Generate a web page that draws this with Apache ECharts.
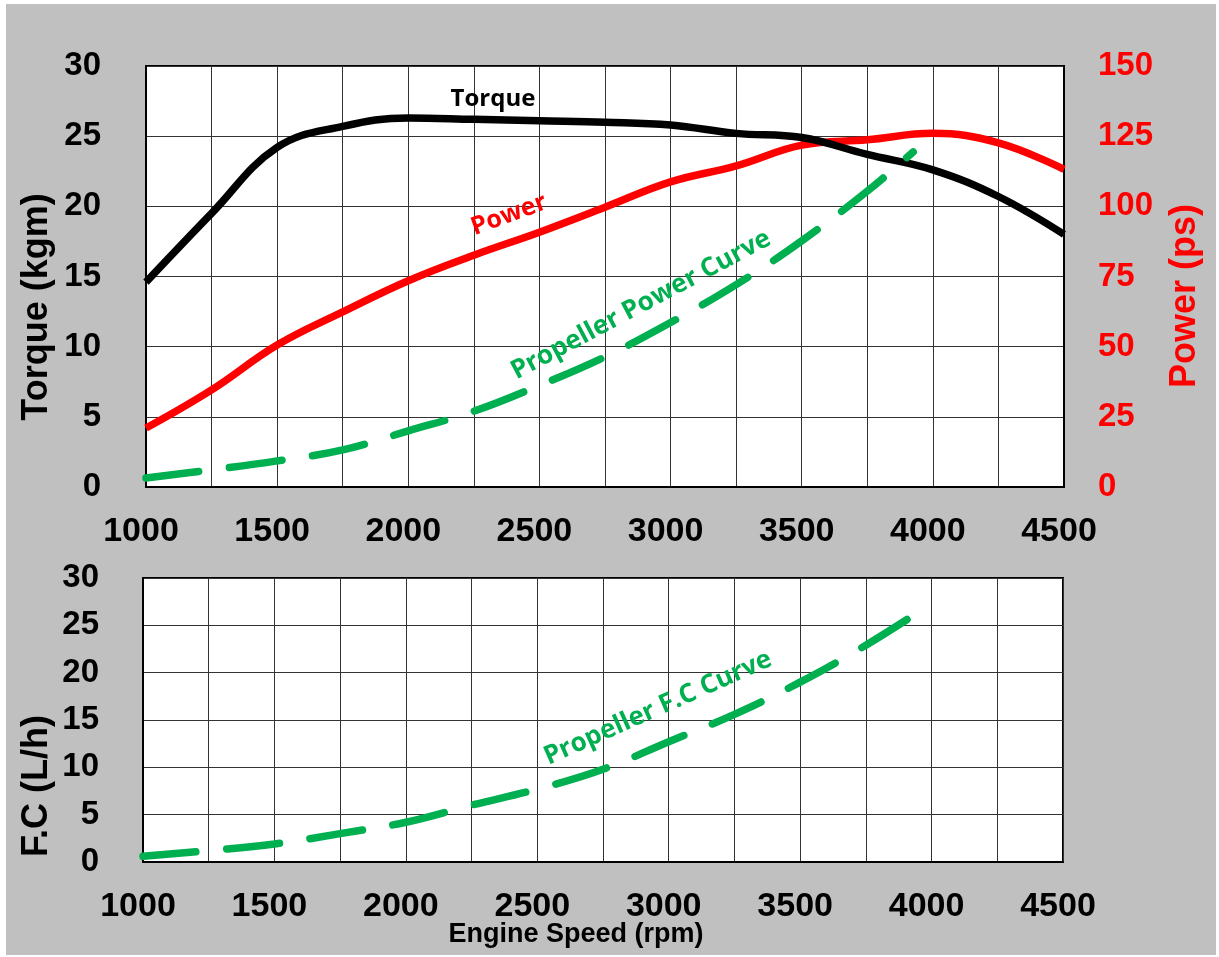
<!DOCTYPE html>
<html>
<head>
<meta charset="utf-8">
<script src="https://cdn.jsdelivr.net/npm/echarts@6/dist/echarts.min.js"></script>
<style>
  html, body { margin: 0; padding: 0; background: #ffffff; }
  #chart { position: absolute; left: 6px; top: 4px; width: 1210px; height: 951px; }
</style>
</head>
<body>
<div id="chart"></div>
<script>
// ---- data ----
const rpm = [1000, 1250, 1500, 1750, 2000, 2250, 2500, 2750, 3000, 3250, 3500, 3750, 4000, 4250, 4500];
const torque = [14.6, 19.5, 24.2, 25.7, 26.3, 26.2, 26.1, 26.0, 25.8, 25.2, 24.9, 23.7, 22.6, 20.7, 18.0];
const power = [21.0, 34.6, 50.6, 62.4, 73.5, 82.6, 90.8, 99.7, 108.7, 114.4, 121.8, 123.7, 126.0, 122.6, 113.2];
const propRpm = [1000, 1250, 1500, 1750, 2000, 2250, 2500, 2750, 3000, 3250, 3500, 3750, 3925];
const propPower = [3.2, 6.1, 9.3, 13.2, 20.0, 27.0, 36.2, 46.4, 58.6, 72.1, 87.7, 105.4, 119.4];
const fcRpm = [1000, 1250, 1500, 1750, 2000, 2250, 2500, 2750, 3000, 3250, 3500, 3750, 4000];
const propFC = [0.6, 1.2, 1.9, 3.0, 4.2, 6.0, 7.7, 9.8, 12.7, 15.6, 19.0, 22.9, 27.3];
const xTicks = [1000, 1500, 2000, 2500, 3000, 3500, 4000, 4500];

const pair = (xs, ys) => xs.map((x, i) => [x, ys[i]]);

const OX = 6, OY = 4;
const tickFont = '"Liberation Sans", Arial, sans-serif';
const noteFont = '"Open Sans", "Noto Sans", sans-serif';

const chart = echarts.init(document.getElementById('chart'));

const gridLine = { show: true, lineStyle: { color: '#333', width: 1 } };
const xLabel = {
  fontSize: 34, fontWeight: 'bold', color: '#000', fontFamily: tickFont,
  margin: 28, padding: [0, 10, 0, 0],
  formatter: v => (xTicks.indexOf(v) >= 0 ? String(v) : '')
};
const dash = { color: '#00b050', width: 7.5, type: [53, 31], cap: 'round' };

function txt(x, y, text, font, fill, rotDeg) {
  return {
    type: 'text', x: x - OX, y: y - OY, rotation: (rotDeg || 0) * Math.PI / 180,
    style: { text: text, font: font, fill: fill, align: 'center', verticalAlign: 'middle',
             textAlign: 'center', textVerticalAlign: 'middle' },
    z: 100
  };
}

const option = {
  backgroundColor: '#c0c0c0',
  animation: false,
  grid: [
    { left: 146 - OX, top: 66 - OY, width: 918, height: 421,
      show: true, backgroundColor: '#fff', borderColor: '#000', borderWidth: 2 },
    { left: 143 - OX, top: 578 - OY, width: 920, height: 284,
      show: true, backgroundColor: '#fff', borderColor: '#000', borderWidth: 2 }
  ],
  xAxis: [
    { type: 'value', gridIndex: 0, min: 1000, max: 4500, interval: 250,
      axisLine: { show: true, lineStyle: { color: '#000', width: 2 } },
      axisTick: { show: false }, splitLine: gridLine, axisLabel: xLabel },
    { type: 'value', gridIndex: 1, min: 1000, max: 4500, interval: 250,
      axisLine: { show: true, lineStyle: { color: '#000', width: 2 } },
      axisTick: { show: false }, splitLine: gridLine, axisLabel: xLabel }
  ],
  yAxis: [
    { type: 'value', gridIndex: 0, min: 0, max: 30, interval: 5, position: 'left',
      axisLine: { show: true, lineStyle: { color: '#000', width: 2 } },
      axisTick: { show: false }, splitLine: gridLine,
      axisLabel: { fontSize: 33, fontWeight: 'bold', color: '#000', fontFamily: tickFont, margin: 45 } },
    { type: 'value', gridIndex: 0, min: 0, max: 150, interval: 25, position: 'right',
      axisLine: { show: true, lineStyle: { color: '#000', width: 2 } },
      axisTick: { show: false }, splitLine: { show: false },
      axisLabel: { fontSize: 33, fontWeight: 'bold', color: '#ff0000', fontFamily: tickFont, margin: 34 } },
    { type: 'value', gridIndex: 1, min: 0, max: 30, interval: 5, position: 'left',
      axisLine: { show: true, lineStyle: { color: '#000', width: 2 } },
      axisTick: { show: false }, splitLine: gridLine,
      axisLabel: { fontSize: 33, fontWeight: 'bold', color: '#000', fontFamily: tickFont, margin: 44 } }
  ],
  series: [
    { name: 'Torque', type: 'line', xAxisIndex: 0, yAxisIndex: 0, data: pair(rpm, torque),
      smooth: 0.4, showSymbol: false, lineStyle: { color: '#000', width: 7.5 }, z: 5 },
    { name: 'Power', type: 'line', xAxisIndex: 0, yAxisIndex: 1, data: pair(rpm, power),
      smooth: 0.4, showSymbol: false, lineStyle: { color: '#ff0000', width: 7.5 }, z: 4 },
    { name: 'Propeller Power Curve', type: 'line', xAxisIndex: 0, yAxisIndex: 1, data: pair(propRpm, propPower),
      smooth: 0.4, showSymbol: false, lineStyle: dash, z: 6 },
    { name: 'Propeller F.C Curve', type: 'line', xAxisIndex: 1, yAxisIndex: 2, data: pair(fcRpm, propFC),
      smooth: 0.4, showSymbol: false, lineStyle: dash, z: 6 }
  ],
  graphic: [
    txt(37, 307, 'Torque (kgm)', 'bold 36px ' + tickFont, '#000', 90),
    txt(1185, 296, 'Power (ps)', 'bold 36px ' + tickFont, '#ff0000', 90),
    txt(37, 786, 'F.C (L/h)', 'bold 36px ' + tickFont, '#000', 90),
    txt(576, 935, 'Engine Speed (rpm)', 'bold 27px ' + tickFont, '#000', 0),
    txt(493, 99, 'Torque', 'bold 24px ' + noteFont, '#000', 0),
    txt(509, 215, 'Power', 'bold 25px ' + noteFont, '#ff0000', 20),
    txt(641, 305, 'Propeller Power Curve', 'bold 26px ' + noteFont, '#00b050', 28),
    txt(658, 708, 'Propeller F.C Curve', 'bold 26px ' + noteFont, '#00b050', 24)
  ]
};
chart.setOption(option);
</script>
</body>
</html>
